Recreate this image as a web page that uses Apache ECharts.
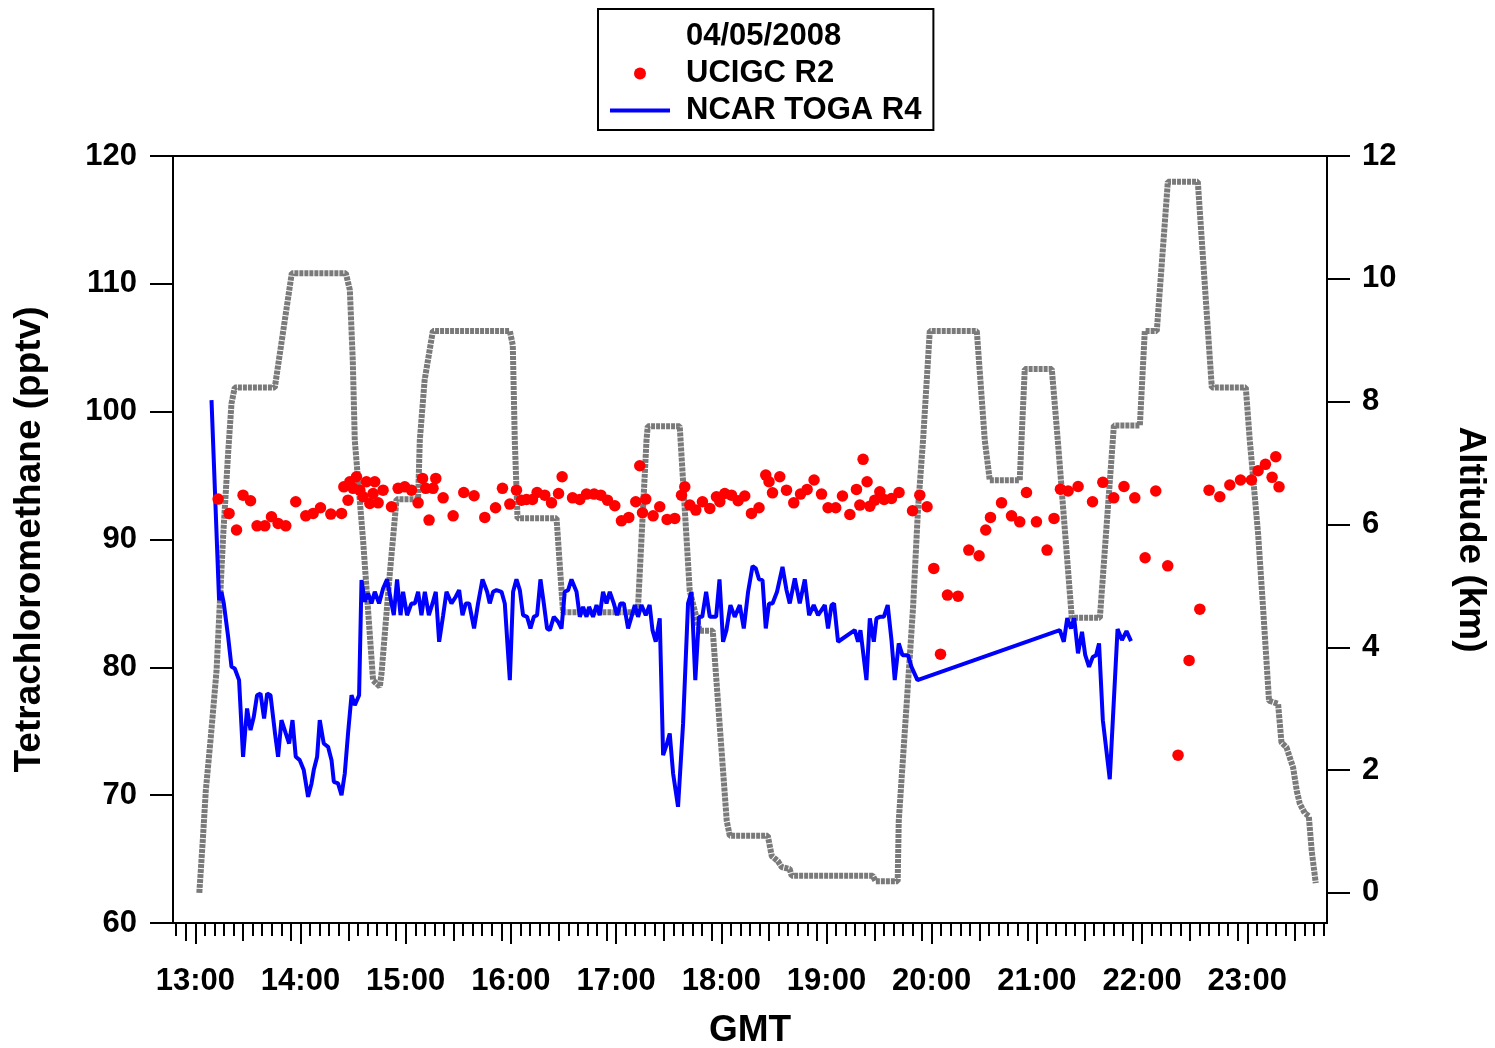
<!DOCTYPE html>
<html><head><meta charset="utf-8">
<script src="https://cdn.jsdelivr.net/npm/echarts@6/dist/echarts.min.js"></script>
<style>html,body{margin:0;padding:0;background:#fff}#c{width:1495px;height:1048px}</style>
</head><body><div id="c"></div>
<script>
// ---- Data (time in decimal hours GMT) ----
const hourTicks = [13,14,15,16,17,18,19,20,21,22,23];
const altTicks = [0,2,4,6,8,10,12];

const blueTime = [13.154,13.226,13.249,13.271,13.312,13.344,13.375,13.416,13.454,13.492,
13.525,13.556,13.587,13.620,13.654,13.683,13.715,13.756,13.787,13.819,
13.860,13.892,13.924,13.955,13.993,14.031,14.072,14.105,14.126,14.158,
14.183,14.221,14.262,14.295,14.317,14.357,14.390,14.421,14.452,14.485,
14.516,14.557,14.580,14.611,14.643,14.675,14.706,14.747,14.785,14.823,
14.865,14.887,14.918,14.951,14.975,15.013,15.055,15.087,15.118,15.150,
15.182,15.220,15.255,15.286,15.318,15.356,15.388,15.435,15.476,15.508,
15.540,15.571,15.603,15.650,15.688,15.730,15.774,15.799,15.831,15.863,
15.911,15.942,15.990,16.021,16.053,16.085,16.116,16.154,16.186,16.218,
16.249,16.281,16.313,16.344,16.370,16.408,16.449,16.481,16.512,16.544,
16.576,16.624,16.655,16.686,16.719,16.743,16.781,16.814,16.845,16.876,
16.909,16.940,16.978,17.010,17.042,17.073,17.114,17.146,17.178,17.209,
17.241,17.282,17.319,17.346,17.377,17.415,17.447,17.479,17.510,17.542,
17.589,17.637,17.684,17.717,17.753,17.788,17.819,17.856,17.891,17.951,
17.983,18.017,18.049,18.087,18.128,18.176,18.214,18.255,18.297,18.328,
18.359,18.392,18.423,18.454,18.487,18.530,18.582,18.620,18.651,18.699,
18.746,18.794,18.835,18.879,18.920,18.953,18.984,19.015,19.048,19.072,
19.110,19.269,19.300,19.323,19.380,19.412,19.450,19.475,19.507,19.545,
19.582,19.618,19.649,19.687,19.722,19.775,19.808,19.865,21.218,21.256,
21.289,21.324,21.355,21.391,21.429,21.460,21.496,21.531,21.563,21.591,
21.627,21.693,21.767,21.809,21.852,21.895];
const blueVal = [100.9,85.26,85.9,85.0,82.39,80.04,79.91,79.0,73.0,76.78,
75.09,76.13,77.82,77.96,76.0,77.96,77.82,74.95,73.0,75.87,
74.83,74.04,75.87,73.0,72.74,71.96,69.87,70.92,71.96,73.0,
75.87,74.04,73.78,72.74,71.04,70.92,70.0,71.7,74.83,77.82,
77.04,77.82,86.82,85.13,85.78,85.0,85.91,85.0,86.17,86.88,
85.0,84.08,86.88,84.08,85.91,84.08,85.0,85.0,85.91,84.08,
85.91,84.08,85.0,85.91,82.0,84.08,85.91,85.0,85.52,86.04,
84.08,85.0,85.0,83.04,85.0,86.88,85.91,85.0,85.91,86.04,
85.91,85.0,79.0,85.91,86.88,86.04,84.08,83.95,83.04,83.95,
84.08,86.88,85.0,83.04,82.91,83.95,83.56,83.04,85.91,86.04,
86.88,85.91,83.95,84.73,83.95,84.73,83.95,84.87,84.08,85.91,
85.0,85.91,85.0,84.08,85.0,85.0,83.04,83.95,84.87,83.95,
84.87,84.08,84.87,82.91,82.0,83.83,73.13,73.91,74.83,71.7,
69.09,75.61,85.0,85.91,79.0,83.95,83.95,85.91,83.95,83.95,
86.88,82.0,82.91,84.87,83.95,84.87,83.04,85.91,87.92,87.74,
86.88,86.82,83.04,85.0,85.0,85.91,87.86,86.04,85.0,86.96,
85.0,86.88,84.08,84.87,84.08,84.48,84.87,83.04,84.87,85.0,
82.0,82.91,82.0,82.91,79.0,83.83,82.0,83.83,83.95,83.95,
84.87,82.13,79.0,81.87,80.95,80.95,80.04,79.0,82.91,82.0,
83.85,83.04,83.85,81.09,82.78,80.95,80.04,80.8,80.95,81.87,
75.87,71.25,83.0,82.13,82.83,82.05];

const redTime = [13.217,13.321,13.392,13.454,13.525,13.587,13.661,13.724,13.787,13.860,
13.955,14.050,14.120,14.190,14.288,14.390,14.412,14.452,14.469,14.500,
14.532,14.564,14.595,14.627,14.659,14.690,14.706,14.738,14.785,14.865,
14.928,14.991,15.055,15.118,15.160,15.191,15.222,15.260,15.286,15.356,
15.451,15.552,15.650,15.752,15.854,15.920,15.990,16.053,16.101,16.148,
16.205,16.249,16.322,16.386,16.453,16.487,16.586,16.655,16.719,16.791,
16.855,16.918,16.988,17.051,17.121,17.187,17.225,17.251,17.282,17.352,
17.415,17.485,17.558,17.622,17.653,17.701,17.758,17.821,17.891,17.954,
17.986,18.033,18.097,18.160,18.223,18.287,18.359,18.423,18.454,18.487,
18.556,18.620,18.689,18.753,18.816,18.882,18.953,19.015,19.088,19.152,
19.222,19.285,19.317,19.348,19.386,19.412,19.459,19.507,19.548,19.618,
19.690,19.818,19.887,19.956,20.020,20.084,20.150,20.251,20.353,20.451,
20.514,20.559,20.664,20.759,20.837,20.901,20.996,21.097,21.163,21.224,
21.297,21.392,21.529,21.627,21.731,21.828,21.931,22.029,22.130,22.244,
22.342,22.447,22.549,22.637,22.739,22.834,22.936,23.040,23.103,23.173,
23.236,23.271,23.302];
const redVal = [93.16,92.04,90.74,93.47,93.03,91.07,91.07,91.78,91.26,91.07,
92.95,91.85,92.04,92.48,91.99,92.04,94.12,93.08,94.52,94.0,
94.91,93.86,93.34,94.52,92.82,93.6,94.52,92.87,93.86,92.56,
94.0,94.12,93.86,92.87,94.78,94.0,91.52,94.0,94.78,93.26,
91.85,93.68,93.42,91.73,92.48,94.0,92.77,93.86,93.08,93.13,
93.13,93.68,93.47,92.87,93.6,94.91,93.26,93.13,93.55,93.55,
93.47,93.08,92.64,91.46,91.73,92.95,95.77,92.09,93.16,91.85,
92.56,91.57,91.65,93.47,94.12,92.69,92.3,92.95,92.43,93.34,
92.95,93.6,93.47,93.03,93.4,92.04,92.48,95.04,94.52,93.65,
94.91,93.86,92.87,93.55,93.92,94.65,93.55,92.48,92.48,93.4,
91.96,93.92,92.69,96.27,94.52,92.61,93.08,93.73,93.13,93.21,
93.68,92.25,93.47,92.56,87.74,81.03,85.65,85.57,89.17,88.73,
90.74,91.73,92.87,91.85,91.38,93.68,91.38,89.17,91.65,93.94,
93.79,94.15,92.95,94.47,93.26,94.15,93.26,88.57,93.79,87.94,
73.13,80.54,84.55,93.86,93.34,94.26,94.65,94.65,95.38,95.88,
94.86,96.47,94.12];

const altTime = [13.038,13.071,13.100,13.147,13.202,13.233,13.264,13.312,13.344,13.375,
13.756,13.917,14.431,14.469,14.497,14.516,14.595,14.690,14.754,14.770,
14.849,14.913,15.118,15.134,15.180,15.258,15.990,16.018,16.037,16.063,
16.434,16.496,17.206,17.289,17.301,17.605,17.700,17.795,17.919,18.052,
18.081,18.442,18.480,18.537,18.575,18.650,18.669,19.439,19.468,19.677,
19.687,19.760,19.823,19.871,19.918,19.982,20.429,20.505,20.552,20.837,
20.854,20.885,21.142,21.199,21.332,21.599,21.722,21.732,21.979,22.026,
22.140,22.245,22.530,22.663,22.986,23.024,23.103,23.150,23.207,23.293,
23.325,23.373,23.436,23.471,23.500,23.547,23.585,23.613,23.651];
const altKm = [0.0,0.85,1.67,2.53,3.62,4.71,5.79,7.16,7.97,8.23,
8.23,10.09,10.09,9.82,8.67,7.37,5.74,3.46,3.36,3.57,
5.2,6.41,6.41,7.37,8.35,9.15,9.15,8.92,7.37,6.1,
6.1,4.57,4.57,7.37,7.6,7.6,4.92,4.27,4.27,1.17,
0.93,0.93,0.6,0.52,0.42,0.39,0.28,0.28,0.19,0.19,
1.17,3.02,4.65,6.28,7.37,9.15,9.15,7.37,6.72,6.72,
7.37,8.53,8.53,7.37,4.48,4.48,7.37,7.61,7.61,9.15,
9.15,11.58,11.58,8.23,8.23,7.37,5.85,4.65,3.13,3.08,
2.45,2.37,2.04,1.66,1.45,1.3,1.25,0.68,0.16];

// ---- Chart ----
const FONT = '"Liberation Sans", Arial, Helvetica, sans-serif';
const X_MIN = 12.788, X_MAX = 23.758;
const minorTicks = [], mediumTicks = [];
for (let h = 12; h <= 23; h++) {
  for (let k = 1; k <= 10; k++) {
    const t = h + k / 11;
    if (t < X_MIN || t > X_MAX) continue;
    (k === 5 || k === 10 ? mediumTicks : minorTicks).push(t);
  }
}
const zip = (a, b) => a.map((v, i) => [v, b[i]]);
const lbl = {fontFamily: FONT, fontSize: 31, fontWeight: 'bold', color: '#000'};
const nameStyle = {fontFamily: FONT, fontSize: 37, fontWeight: 'bold', color: '#000'};
const blackLine = {color: '#000', width: 2};

function tickAxis(values, len) {
  return {
    type: 'value', min: X_MIN, max: X_MAX, position: 'bottom', gridIndex: 0,
    axisLine: {show: false, onZero: false}, splitLine: {show: false},
    axisLabel: {show: false},
    axisTick: {show: true, length: len, customValues: values, lineStyle: blackLine}
  };
}

const chart = echarts.init(document.getElementById('c'));
chart.setOption({
  animation: false,
  backgroundColor: '#fff',
  grid: {left: 173, right: 168, top: 156, bottom: 125, show: true,
         containLabel: false, outerBoundsMode: 'none',
         borderColor: '#000', borderWidth: 2, backgroundColor: 'transparent'},
  title: {text: '04/05/2008', left: 686, top: 21, padding: 0, textStyle: lbl},
  legend: {
    data: [
      {name: 'UCIGC R2', icon: 'circle'},
      {name: 'NCAR TOGA R4', icon: 'path://M0,0 L60,0 L60,4 L0,4 Z'}
    ],
    orient: 'vertical', left: 598, top: 9,
    padding: [46, 12, 1, 12], itemGap: 0, itemWidth: 60, itemHeight: 12,
    borderColor: '#000', borderWidth: 2, borderRadius: 0,
    textStyle: Object.assign({lineHeight: 37, padding: [0, 0, 0, 11]}, lbl)
  },
  xAxis: [
    {
      type: 'value', min: X_MIN, max: X_MAX, position: 'bottom',
      axisLine: {show: true, onZero: false, lineStyle: blackLine},
      splitLine: {show: false},
      axisTick: {show: true, length: 21, customValues: hourTicks, lineStyle: blackLine},
      axisLabel: Object.assign({customValues: hourTicks, margin: 43,
        formatter: v => Math.round(v) + ':00'}, lbl),
      name: 'GMT', nameLocation: 'middle', nameGap: 89, nameTextStyle: nameStyle
    },
    tickAxis(mediumTicks, 18),
    tickAxis(minorTicks, 13)
  ],
  yAxis: [
    {
      type: 'value', min: 60, max: 120, interval: 10, position: 'left',
      axisLine: {show: true, onZero: false, lineStyle: blackLine},
      splitLine: {show: false},
      axisTick: {show: true, length: 23, lineStyle: blackLine},
      axisLabel: Object.assign({margin: 36, padding: [5, 0, 0, 0]}, lbl),
      name: 'Tetrachloromethane (pptv)', nameLocation: 'middle', nameGap: 125,
      nameTextStyle: nameStyle
    },
    {
      type: 'value', min: -0.49, max: 12, position: 'right',
      axisLine: {show: true, onZero: false, lineStyle: blackLine},
      splitLine: {show: false},
      axisTick: {show: true, length: 23, customValues: altTicks, lineStyle: blackLine},
      axisLabel: Object.assign({margin: 35, padding: [5, 0, 0, 0], customValues: altTicks}, lbl),
      name: 'Altitude (km)', nameLocation: 'middle', nameGap: 125, nameRotate: -90,
      nameTextStyle: nameStyle
    }
  ],
  series: [
    {
      name: 'Altitude', type: 'line', xAxisIndex: 0, yAxisIndex: 1,
      data: zip(altTime, altKm), symbol: 'none', showSymbol: false, z: 1,
      lineStyle: {color: '#7a7a7a', width: 6, type: [4, 1]}
    },
    {
      name: 'NCAR TOGA R4', type: 'line', xAxisIndex: 0, yAxisIndex: 0,
      data: zip(blueTime, blueVal), symbol: 'none', showSymbol: false, z: 3,
      itemStyle: {color: '#0000ff'},
      lineStyle: {color: '#0000ff', width: 4}
    },
    {
      name: 'UCIGC R2', type: 'scatter', xAxisIndex: 0, yAxisIndex: 0,
      data: zip(redTime, redVal), symbol: 'circle', symbolSize: 11.5, z: 4,
      itemStyle: {color: '#ff0000', opacity: 1}
    }
  ]
});
</script>
</body></html>
